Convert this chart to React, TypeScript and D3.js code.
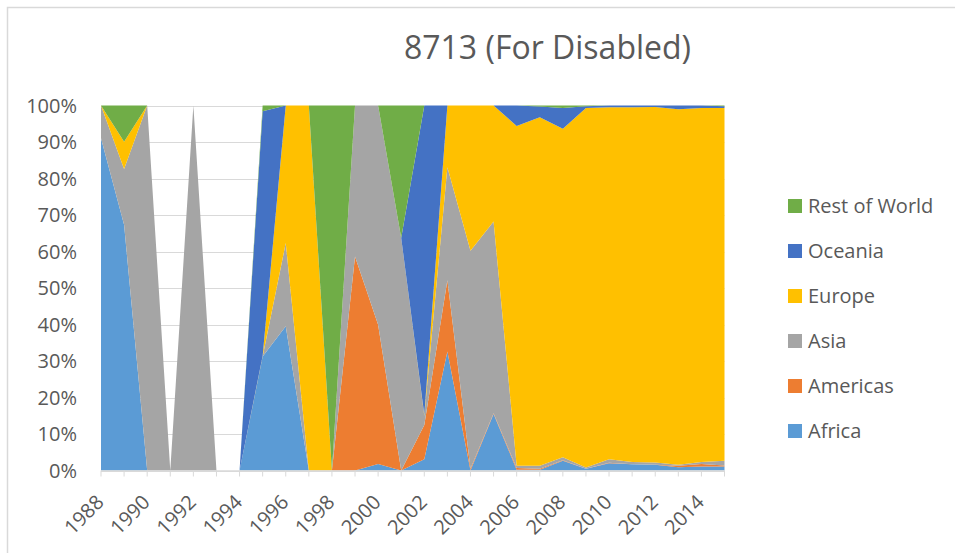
import React from "react";
import * as d3 from "d3";

const years = [1988, 1989, 1990, 1991, 1992, 1993, 1994, 1995, 1996, 1997, 1998, 1999, 2000, 2001, 2002, 2003, 2004, 2005, 2006, 2007, 2008, 2009, 2010, 2011, 2012, 2013, 2014, 2015];
const seriesNames = ["Africa", "Americas", "Asia", "Europe", "Oceania", "Rest of World"];
const africa = [91, 67.3, 0, 0, 0, 0, 0, 31.2, 39.5, 0, 0, 0, 1.8, 0, 3.1, 32.6, 0, 15.5, 0.2, 0.2, 2.7, 0.5, 2.0, 1.7, 1.6, 0.9, 1.1, 1.1];
const americas = [0, 0, 0, 0, 0, 0, 0, 0, 0, 0, 0, 58.6, 38.1, 0, 9.4, 19.5, 0.5, 0.2, 0.5, 0.3, 0.1, 0, 0.1, 0, 0, 0.4, 0.7, 0.3];
const asia = [9, 15.3, 100, 0, 100, 0, 0, 0, 22.8, 0, 0, 41.4, 60.1, 63.7, 2.5, 31, 59.7, 52.5, 0.6, 0.8, 0.8, 0.3, 1.0, 0.6, 0.6, 0.3, 0.5, 1.3];
const europe = [0, 7.5, 0, 0, 0, 0, 0, 0.2, 37.7, 100, 0, 0, 0, 0, 0.3, 16.9, 39.8, 31.8, 93.1, 95.5, 90, 98.5, 96.4, 97.2, 97.4, 97.4, 97, 96.6];
const oceania = [0, 0, 0, 0, 0, 0, 0, 67, 0, 0, 0, 0, 0, 0, 84.7, 0, 0, 0, 5.6, 2.9, 5.7, 0.5, 0.5, 0.5, 0.4, 1.0, 0.7, 0.5];
const restOfWorld = [0, 9.9, 0, 0, 0, 0, 0, 1.6, 0, 0, 100, 0, 0, 36.3, 0, 0, 0, 0, 0, 0.3, 0.7, 0.2, 0, 0, 0, 0, 0, 0.2];
const colors = ["#5B9BD5", "#ED7D31", "#A5A5A5", "#FFC000", "#4472C4", "#70AD47"];
const yTicks = [0, 0.1, 0.2, 0.3, 0.4, 0.5, 0.6, 0.7, 0.8, 0.9, 1];
const xLabelYears = [1988, 1990, 1992, 1994, 1996, 1998, 2000, 2002, 2004, 2006, 2008, 2010, 2012, 2014];
const title = "8713 (For Disabled)";

export default function App() {
  const W = 955, H = 553;
  const left = 101, right = 724.5, top = 105.5, bottom = 470.5;
  const x = d3.scaleLinear().domain([years[0], years[years.length - 1]]).range([left, right]);
  const y = d3.scaleLinear().domain([0, 1]).range([bottom, top]);
  const valuesBySeries = [africa, americas, asia, europe, oceania, restOfWorld];
  const rows = years.map((yr, i) => {
    const r: any = { year: yr };
    seriesNames.forEach((n, k) => (r[n] = valuesBySeries[k][i]));
    return r;
  });
  const stacked = d3.stack().keys(seriesNames).offset(d3.stackOffsetExpand)(rows);
  const area = d3
    .area<any>()
    .x((d) => x(d.data.year))
    .y0((d) => y(d[0]))
    .y1((d) => y(d[1]));
  const font = "'Open Sans', 'Liberation Sans', sans-serif";
  const textColor = "#595959";
  const legendOrder = [...seriesNames.keys()].reverse();
  return (
    <svg width={W} height={H} style={{ display: "block" }} fontFamily={font}>
      <style>{`body{margin:0}`}</style>
      <rect x={0} y={0} width={W} height={H} fill="#fff" />
      <rect x={7.5} y={7.5} width={1200} height={800} fill="none" stroke="#d9d9d9" strokeWidth={1.5} />
      <text x={547.5} y={59} textAnchor="middle" fontSize={32} fill={textColor}>
        {title}
      </text>
      {yTicks.map((t) => (
        <line key={"g" + t} x1={left} x2={right} y1={Math.round(y(t)) + 0.5} y2={Math.round(y(t)) + 0.5} stroke="#d9d9d9" strokeWidth={1} />
      ))}
      {stacked.map((s, k) => (
        <path key={s.key} d={area(s as any) || ""} fill={colors[k]} />
      ))}
      <line x1={left} x2={right} y1={bottom + 0.5} y2={bottom + 0.5} stroke="#d9d9d9" strokeWidth={1.5} />
      {years.map((yr) => (
        <line key={"t" + yr} x1={x(yr)} x2={x(yr)} y1={bottom} y2={bottom + 6} stroke="#d9d9d9" strokeWidth={1} />
      ))}
      {yTicks.map((t) => (
        <text key={"yl" + t} x={77} y={y(t)} dy="0.35em" textAnchor="end" fontSize={20} fill={textColor}>
          {d3.format(".0%")(t)}
        </text>
      ))}
      {xLabelYears.map((yr) => (
        <text
          key={"xl" + yr}
          transform={`translate(${x(yr) + 4},${bottom + 33}) rotate(-45)`}
          textAnchor="end"
          fontSize={20}
          fill={textColor}
        >
          {yr}
        </text>
      ))}
      {legendOrder.map((k, i) => (
        <g key={"lg" + k} transform={`translate(788,${206 + i * 45})`}>
          <rect x={0} y={-7} width={14} height={14} fill={colors[k]} />
          <text x={20} y={0} dy="0.35em" fontSize={20} fill={textColor}>
            {seriesNames[k]}
          </text>
        </g>
      ))}
    </svg>
  );
}
